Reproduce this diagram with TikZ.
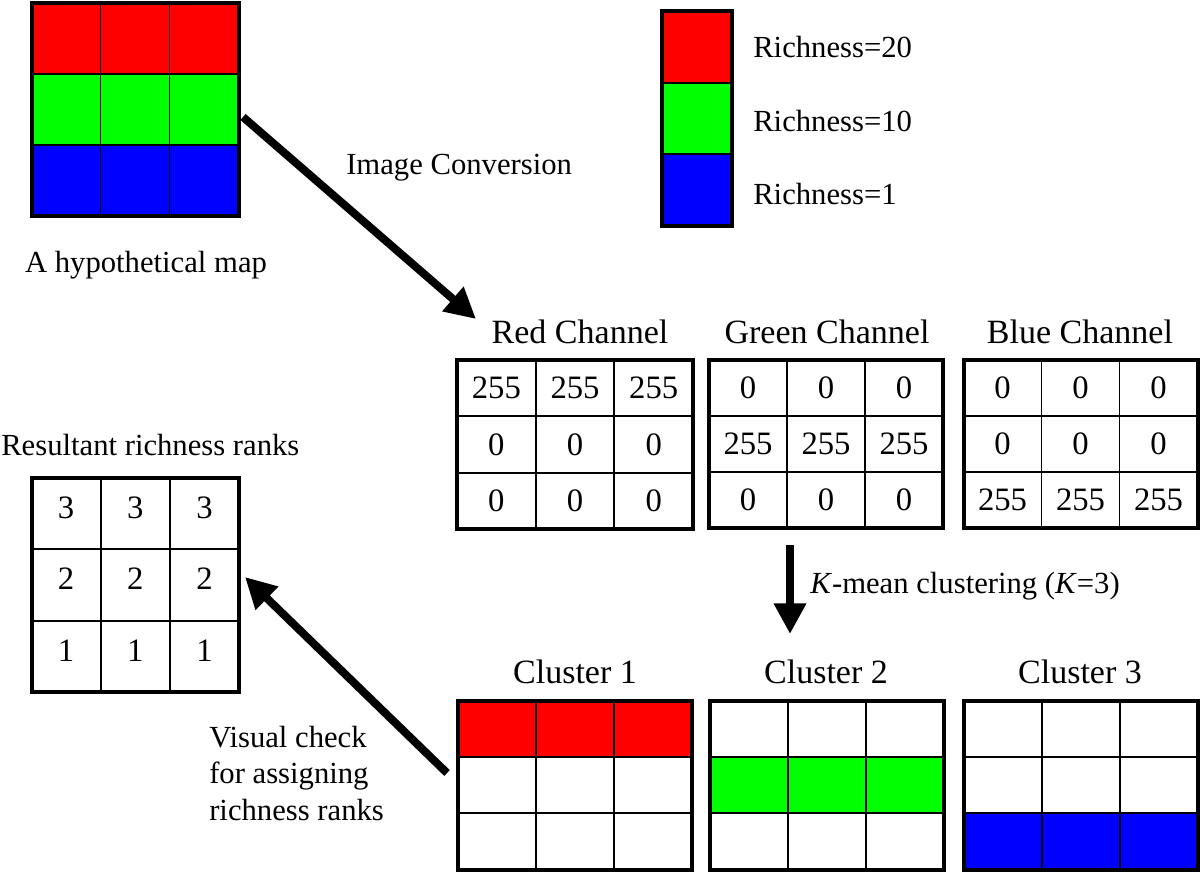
\documentclass[tikz,border=0pt]{standalone}
\usepackage{fontspec}
\setmainfont{Liberation Serif}
\usetikzlibrary{arrows.meta,fit}
\definecolor{pR}{RGB}{255,0,0}
\definecolor{pG}{RGB}{0,255,0}
\definecolor{pB}{RGB}{0,0,255}
\tikzset{
  outerbox/.style={draw, line width=3pt, inner sep=0pt, fill=none},
  innerline/.style={line width=1.3pt},
  lbl/.style={font=\fontsize{23}{27}\selectfont, inner sep=0pt},
  ttl/.style={font=\fontsize{25.5}{30}\selectfont, inner sep=0pt},
  num/.style={font=\fontsize{24.5}{29}\selectfont, inner sep=0pt},
  bigarrow/.style={line width=6pt, -{Triangle[length=23pt,width=23pt]}}
}
% #1 name, #2 x0, #3 y0, #4 x1, #5 y1, #6 #7 #8 row fill colours
\newcommand\mkgrid[8]{%
  \pgfmathsetmacro\gxa{#2+(#4-#2)/3}%
  \pgfmathsetmacro\gxb{#2+2*(#4-#2)/3}%
  \pgfmathsetmacro\gya{#3+(#5-#3)/3}%
  \pgfmathsetmacro\gyb{#3+2*(#5-#3)/3}%
  \fill[#6] (#2,#3) rectangle (#4,\gya);
  \fill[#7] (#2,\gya) rectangle (#4,\gyb);
  \fill[#8] (#2,\gyb) rectangle (#4,#5);
  \draw[innerline] (\gxa,#3) -- (\gxa,#5) (\gxb,#3) -- (\gxb,#5)
                   (#2,\gya) -- (#4,\gya) (#2,\gyb) -- (#4,\gyb);
  \node[outerbox, fit={(#2,#3) (#4,#5)}] (#1) {};
}
% single-column strip (legend)
\newcommand\mkstrip[8]{%
  \pgfmathsetmacro\gya{#3+(#5-#3)/3}%
  \pgfmathsetmacro\gyb{#3+2*(#5-#3)/3}%
  \fill[#6] (#2,#3) rectangle (#4,\gya);
  \fill[#7] (#2,\gya) rectangle (#4,\gyb);
  \fill[#8] (#2,\gyb) rectangle (#4,#5);
  \draw[innerline] (#2,\gya) -- (#4,\gya) (#2,\gyb) -- (#4,\gyb);
  \node[outerbox, fit={(#2,#3) (#4,#5)}] (#1) {};
}
% #1 prefix, #2 x0, #3 y0, #4 x1, #5 y1, #6 #7 #8 row values
\newcommand\mknums[8]{%
  \foreach \r/\v in {0/#6,1/#7,2/#8}{
    \foreach \c in {0,1,2}{
      \pgfmathsetmacro\cx{#2+(\c+0.5)*(#4-#2)/3}
      \pgfmathsetmacro\cy{#3+(\r+0.5)*(#5-#3)/3}
      \node[num] (#1-\r-\c) at (\cx,\cy) {\v};
    }
  }
}
\newcommand\mknumsup[8]{%
  \foreach \r/\v in {0/#6,1/#7,2/#8}{
    \foreach \c in {0,1,2}{
      \pgfmathsetmacro\cx{#2+(\c+0.5)*(#4-#2)/3}
      \pgfmathsetmacro\cy{#3+(\r+0.5)*(#5-#3)/3-6}
      \node[num] (#1-\r-\c) at (\cx,\cy) {\v};
    }
  }
}
\begin{document}
\begin{tikzpicture}[x=0.75pt,y=-0.75pt]
\useasboundingbox (0,0) rectangle (1200,872);

% hypothetical map
\mkgrid{map}{31.5}{2.5}{238.5}{216}{pR}{pG}{pB}
\node[lbl, anchor=base] (maplbl) at (146,272) {A hypothetical map};

% legend
\mkstrip{legend}{662}{11}{732}{226}{pR}{pG}{pB}
\node[lbl, anchor=base west] (leg1) at (753,57) {Richness=20};
\node[lbl, anchor=base west] (leg2) at (753,131) {Richness=10};
\node[lbl, anchor=base west] (leg3) at (753,204) {Richness=1};

% arrow 1
\coordinate (a1s) at (243,117);
\coordinate (a1e) at (476,319);
\draw[bigarrow] (a1s) -- (a1e);
\node[lbl, anchor=base west] (convlbl) at (346,174) {Image Conversion};

% channels
\mkgrid{redch}{457}{360}{693}{529}{white}{white}{white}
\mknums{rn}{457}{360}{693}{529}{255}{0}{0}
\node[ttl, anchor=base] (redttl) at (580,343) {Red Channel};

\mkgrid{greench}{709}{360}{943}{528}{white}{white}{white}
\mknums{gn}{709}{360}{943}{528}{0}{255}{0}
\node[ttl, anchor=base] (greenttl) at (827,343) {Green Channel};

\mkgrid{bluech}{963.5}{360}{1197.5}{528}{white}{white}{white}
\mknums{bn}{963.5}{360}{1197.5}{528}{0}{0}{255}
\node[ttl, anchor=base] (bluettl) at (1080,343) {Blue Channel};

% down arrow
\coordinate (a2s) at (790,545);
\coordinate (a2e) at (790,634);
\draw[bigarrow] (a2s) -- (a2e);
\node[lbl, anchor=base west] (kmlbl) at (810,593) {\textit{K}-mean clustering (\textit{K}=3)};

% clusters
\mkgrid{cl1}{458}{701}{692}{869.5}{pR}{white}{white}
\node[ttl, anchor=base] (cl1ttl) at (575,683) {Cluster 1};
\mkgrid{cl2}{710}{701}{943.5}{869.5}{white}{pG}{white}
\node[ttl, anchor=base] (cl2ttl) at (826,683) {Cluster 2};
\mkgrid{cl3}{964}{701}{1197.5}{869.5}{white}{white}{pB}
\node[ttl, anchor=base] (cl3ttl) at (1080,683) {Cluster 3};

% result
\mkgrid{result}{31.5}{478}{239}{692}{white}{white}{white}
\mknumsup{res}{31.5}{478}{239}{692}{3}{2}{1}
\node[lbl, anchor=base west] (resttl) at (1,455) {Resultant richness ranks};

% arrow 3
\coordinate (a3s) at (447,773);
\coordinate (a3e) at (245,577);
\draw[bigarrow] (a3s) -- (a3e);
\node[lbl, anchor=base west] (vc1) at (209,747) {Visual check};
\node[lbl, anchor=base west] (vc2) at (209,783) {for assigning};
\node[lbl, anchor=base west] (vc3) at (209,820) {richness ranks};
\end{tikzpicture}
\end{document}
